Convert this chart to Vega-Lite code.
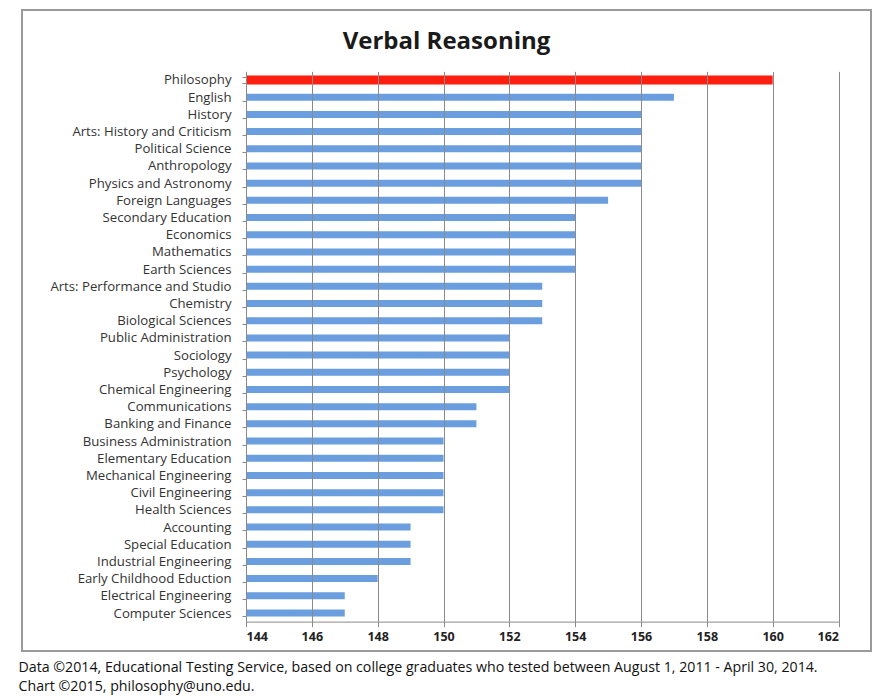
{
  "$schema": "https://vega.github.io/schema/vega-lite/v6.json",
  "width": 849,
  "height": 641,
  "autosize": "none",
  "padding": {"left": 22, "top": 10, "right": 14, "bottom": 45},
  "background": "white",
  "title": {
    "text": "Verbal Reasoning",
    "anchor": "middle",
    "frame": "group",
    "offset": -51,
    "font": "Open Sans",
    "fontSize": 24,
    "fontWeight": "bold",
    "color": "#1a1a1a"
  },
  "config": {
    "view": {"stroke": "#9a9a9a", "strokeWidth": 2, "fill": "white"},
    "font": "Open Sans"
  },
  "data": {
    "values": [
      {"major": "Philosophy", "score": 160},
      {"major": "English", "score": 157},
      {"major": "History", "score": 156},
      {"major": "Arts: History and Criticism", "score": 156},
      {"major": "Political Science", "score": 156},
      {"major": "Anthropology", "score": 156},
      {"major": "Physics and Astronomy", "score": 156},
      {"major": "Foreign Languages", "score": 155},
      {"major": "Secondary Education", "score": 154},
      {"major": "Economics", "score": 154},
      {"major": "Mathematics", "score": 154},
      {"major": "Earth Sciences", "score": 154},
      {"major": "Arts: Performance and Studio", "score": 153},
      {"major": "Chemistry", "score": 153},
      {"major": "Biological Sciences", "score": 153},
      {"major": "Public Administration", "score": 152},
      {"major": "Sociology", "score": 152},
      {"major": "Psychology", "score": 152},
      {"major": "Chemical Engineering", "score": 152},
      {"major": "Communications", "score": 151},
      {"major": "Banking and Finance", "score": 151},
      {"major": "Business Administration", "score": 150},
      {"major": "Elementary Education", "score": 150},
      {"major": "Mechanical Engineering", "score": 150},
      {"major": "Civil Engineering", "score": 150},
      {"major": "Health Sciences", "score": 150},
      {"major": "Accounting", "score": 149},
      {"major": "Special Education", "score": 149},
      {"major": "Industrial Engineering", "score": 149},
      {"major": "Early Childhood Eduction", "score": 148},
      {"major": "Electrical Engineering", "score": 147},
      {"major": "Computer Sciences", "score": 147}
    ]
  },
  "encoding": {
    "y": {
      "field": "major",
      "type": "nominal",
      "sort": null,
      "scale": {"range": [61.4, 611.6], "paddingInner": 0.6, "paddingOuter": 0.3},
      "axis": {
        "title": null,
        "offset": -224,
        "domain": true,
        "domainColor": "#8a8a8a",
        "ticks": true,
        "tickBand": "extent",
        "tickSize": 4,
        "tickColor": "#8a8a8a",
        "labelPadding": 11,
        "labelLimit": 300,
        "labelFont": "Open Sans",
        "labelFontSize": 13.2,
        "labelColor": "#333333",
        "grid": false
      }
    }
  },
  "layer": [
    {
      "mark": {"type": "bar"},
      "encoding": {
        "x": {
          "field": "score",
          "type": "quantitative",
          "scale": {"domain": [144, 162], "range": [224, 816.5], "nice": false, "zero": false},
          "axis": {
            "orient": "bottom",
            "values": [144, 146, 148, 150, 152, 154, 156, 158, 160, 162],
            "offset": -29.4,
            "grid": false,
            "domain": true,
            "domainColor": "#8a8a8a",
            "ticks": true,
            "tickSize": 5,
            "tickColor": "#8a8a8a",
            "labelPadding": 4,
            "labelFont": "Open Sans",
            "labelFontSize": 12.5,
            "labelFontWeight": "bold",
            "labelColor": "#222222",
            "title": [
              "Data ©2014, Educational Testing Service, based on college graduates who tested between August 1, 2011 - April 30, 2014.",
              "Chart ©2015, philosophy@uno.edu."
            ],
            "titleX": -4,
            "titleY": 39,
            "titleAlign": "left",
            "titleAnchor": "start",
            "titleBaseline": "top",
            "titleLineHeight": 18.5,
            "titleFont": "Open Sans",
            "titleFontSize": 14.2,
            "titleFontWeight": "normal",
            "titleColor": "#111111"
          }
        },
        "x2": {"datum": 144},
        "color": {
          "condition": {"test": "datum.major === 'Philosophy'", "value": "#fc1f10"},
          "value": "#6a9ede"
        },
        "size": {
          "condition": {"test": "datum.major === 'Philosophy'", "value": 9},
          "value": 7
        }
      }
    },
    {
      "mark": {"type": "point", "opacity": 0},
      "encoding": {
        "x": {
          "field": "score",
          "type": "quantitative",
          "scale": {"domain": [144, 162], "range": [224, 816.5], "nice": false, "zero": false},
          "axis": {
            "orient": "top",
            "values": [144, 146, 148, 150, 152, 154, 156, 158, 160, 162],
            "grid": true,
            "gridColor": "#8a8a8a",
            "gridWidth": 1,
            "domain": false,
            "ticks": false,
            "labels": false,
            "title": null,
            "zindex": 1
          }
        }
      }
    }
  ],
  "resolve": {"axis": {"x": "independent"}}
}
